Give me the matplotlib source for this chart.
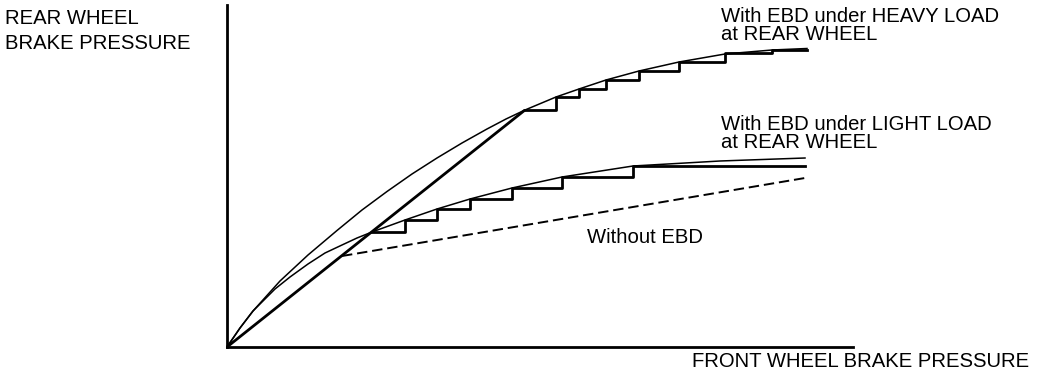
import matplotlib
matplotlib.use("Agg")
import matplotlib.pyplot as plt

plt.rcParams['font.family'] = ['Liberation Sans', 'DejaVu Sans']
plt.rcParams['lines.scale_dashes'] = False

W, H = 1056, 384

# brake pressure in arbitrary units (front, rear)
heavy_front = [0, 13, 26, 53, 81, 110, 135, 160, 185, 210, 235, 260, 279,
               298, 329, 352, 379, 412, 452, 498, 545, 580]
heavy_rear = [0, 19, 36, 66, 92, 116.5, 137, 155.5, 173, 189, 204, 218, 228,
              237, 250, 258, 267, 276, 285, 293, 297, 298.5]

light_front = [0, 13, 26, 48, 63, 81, 98, 115, 130, 145, 178, 210, 243, 285,
               335, 406, 493, 578]
light_rear = [0, 19, 36, 58, 70, 83, 94, 102, 109, 115, 127, 138, 148, 159,
              170, 181, 186, 189]

# stepped EBD control
heavy_step_front = [298, 329, 352, 379, 412, 452, 498, 545, 580]
heavy_step_rear = [237, 250, 258, 267, 276, 285, 294, 297.5, 297.5]

light_step_front = [145, 178, 210, 243, 285, 335, 406, 578]
light_step_rear = [115, 127, 138, 148, 159, 170, 181, 181]

# proportional line (both loads)
prop_front = [0, 298]
prop_rear = [0, 237]

# without EBD
no_ebd_front = [115, 578]
no_ebd_rear = [91, 169]

fig = plt.figure(figsize=(W / 100, H / 100), dpi=100)
ax = fig.add_axes([227 / W, (H - 347) / H, (853 - 227) / W, (347 - 5) / H])
ax.set_xlim(0, 626)
ax.set_ylim(0, 342)

thin = 1.1
thick = 2.0
ax.plot(heavy_front, heavy_rear, color="black", lw=thin, clip_on=False)
ax.plot(light_front, light_rear, color="black", lw=thin, clip_on=False)
ax.plot(prop_front, prop_rear, color="black", lw=thick, clip_on=False,
        solid_capstyle="butt")
ax.step(heavy_step_front, heavy_step_rear, where="post", color="black",
        lw=thick, clip_on=False)
ax.step(light_step_front, light_step_rear, where="post", color="black",
        lw=thick, clip_on=False)
ax.plot(no_ebd_front, no_ebd_rear, color="black", lw=1.4,
        linestyle=(0, (7.5, 3.5)), clip_on=False)

for s in ["top", "right"]:
    ax.spines[s].set_visible(False)
for s in ["left", "bottom"]:
    ax.spines[s].set_linewidth(2.0)
ax.set_xticks([])
ax.set_yticks([])


def ftext(x, y, s):
    fig.text(x / W, 1 - y / H, s, fontsize=14.6, ha="left", va="baseline",
             color="black")


ftext(5, 24, "REAR WHEEL")
ftext(5, 49, "BRAKE PRESSURE")
ftext(721, 22, "With EBD under HEAVY LOAD")
ftext(721, 40, "at REAR WHEEL")
ftext(721, 130, "With EBD under LIGHT LOAD")
ftext(721, 148, "at REAR WHEEL")
ftext(587, 243, "Without EBD")
ftext(692, 367, "FRONT WHEEL BRAKE PRESSURE")

fig.savefig("out.png", dpi=100)
